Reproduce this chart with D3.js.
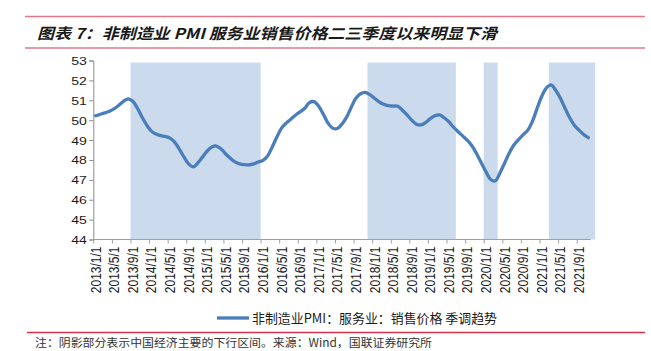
<!DOCTYPE html>
<html><head><meta charset="utf-8">
<script src="https://cdn.jsdelivr.net/npm/d3@7"></script>
<style>
body{margin:0;background:#fff;}
svg{display:block;}
</style></head>
<body>
<svg id="chart" width="651" height="351"></svg>
<script>
// ---------------- data ----------------
const titleText = "图表 7：非制造业 PMI 服务业销售价格二三季度以来明显下滑";
const legendText = "非制造业PMI：服务业：销售价格 季调趋势";
const noteText = "注：阴影部分表示中国经济主要的下行区间。来源：Wind，国联证券研究所";

const startYear = 2013, startMonth = 1;   // first category: 2013/1/1
const values = [
  // 2013
  50.22, 50.30, 50.37, 50.45, 50.58, 50.75, 50.95, 51.07, 50.95, 50.60, 50.15, 49.75,
  // 2014
  49.45, 49.30, 49.22, 49.18, 49.10, 48.90, 48.55, 48.15, 47.80, 47.65, 47.85, 48.15,
  // 2015
  48.45, 48.65, 48.70, 48.55, 48.30, 48.08, 47.90, 47.80, 47.76, 47.75, 47.80, 47.90,
  // 2016
  47.98, 48.20, 48.65, 49.15, 49.60, 49.85, 50.05, 50.25, 50.42, 50.60, 50.88, 50.93,
  // 2017
  50.70, 50.30, 49.85, 49.60, 49.58, 49.80, 50.15, 50.65, 51.10, 51.33, 51.40, 51.28,
  // 2018
  51.10, 50.92, 50.80, 50.73, 50.71, 50.70, 50.50, 50.27, 50.00, 49.80, 49.76, 49.88,
  // 2019
  50.08, 50.22, 50.26, 50.12, 49.92, 49.65, 49.42, 49.20, 48.98, 48.70, 48.30, 47.85,
  // 2020
  47.40, 47.02, 46.95, 47.35, 47.85, 48.35, 48.75, 49.02, 49.27, 49.50, 49.95, 50.60,
  // 2021 (Jan - Nov)
  51.20, 51.62, 51.77, 51.50, 51.10, 50.60, 50.12, 49.75, 49.50, 49.28, 49.12
];

const tickLabels = [
  "2013/1/1","2013/5/1","2013/9/1","2014/1/1","2014/5/1","2014/9/1",
  "2015/1/1","2015/5/1","2015/9/1","2016/1/1","2016/5/1","2016/9/1",
  "2017/1/1","2017/5/1","2017/9/1","2018/1/1","2018/5/1","2018/9/1",
  "2019/1/1","2019/5/1","2019/9/1","2020/1/1","2020/5/1","2020/9/1",
  "2021/1/1","2021/5/1","2021/9/1"
];

// downturn periods (shaded), first month .. last month inclusive
const shadeStarts = ["2013/9", "2017/12", "2020/1", "2021/3"];
const shadeEnds   = ["2015/12", "2019/6", "2020/3", "2021/12"];
const shadeLevel = 52.9;

const yTicks = [44,45,46,47,48,49,50,51,52,53];

// ---------------- layout ----------------
(function(){
const svg = d3.select("#chart");
const mLeft = 93.3, mRight = 590.6, mTop = 60.5, mBottom = 239.5;

const monthIndex = s => { const [yy,mm] = s.split("/").map(Number); return (yy-startYear)*12 + (mm-startMonth); };

const x = d3.scaleLinear().domain([0, values.length]).range([mLeft, mRight]); // category boundaries
const y = d3.scaleLinear().domain([44, 53]).range([mBottom, mTop]);

const fontLatin = "'Liberation Sans', Arial, sans-serif";
const fontCJK = "'Noto Sans CJK SC', 'Liberation Sans', sans-serif";

// title & rules
svg.append("line").attr("x1",25).attr("x2",645).attr("y1",16.5).attr("y2",16.5)
  .attr("stroke","#e2778c").attr("stroke-width",1.3);
svg.append("line").attr("x1",25).attr("x2",645).attr("y1",48).attr("y2",48)
  .attr("stroke","#e2778c").attr("stroke-width",1.3);
svg.append("text").attr("x",37).attr("y",38.5)
  .attr("font-family",fontCJK).attr("font-size",15).attr("font-weight","bold")
  .attr("font-style","italic").attr("fill","#1a1a1a")
  .attr("textLength",460).attr("lengthAdjust","spacingAndGlyphs")
  .text(titleText);

// shading
const shades = shadeStarts.map((s,i)=>({s:monthIndex(s), e:monthIndex(shadeEnds[i])+1}));
svg.append("g").selectAll("rect").data(shades).join("rect")
  .attr("x", d=>x(d.s)).attr("width", d=>x(d.e)-x(d.s))
  .attr("y", y(shadeLevel)).attr("height", y(44)-y(shadeLevel))
  .attr("fill","#cbdaec");

// y axis
const yAxis = d3.axisLeft(y).tickValues(yTicks).tickSize(4).tickFormat(d3.format("d"));
const gy = svg.append("g").attr("transform",`translate(${mLeft},0)`).call(yAxis);
gy.select(".domain").attr("stroke","#8c8c8c");
gy.selectAll(".tick line").attr("stroke","#8c8c8c");
gy.selectAll(".tick text").attr("font-family",fontLatin).attr("font-size",11.5).attr("fill","#1a1a1a")
  .attr("x",0).attr("dy","0.35em")
  .attr("transform","translate(-6.5,0) scale(1.22,1)");

// x axis
const tickIdx = tickLabels.map(t=>monthIndex(t.split("/").slice(0,2).join("/")));
const xAxis = d3.axisBottom(x).tickValues(tickIdx).tickSize(4).tickFormat("");
const gx = svg.append("g").attr("transform",`translate(0,${mBottom})`).call(xAxis);
gx.select(".domain").attr("stroke","#a0a0a0").attr("d",`M${mLeft},0H${mRight}`);
gx.selectAll(".tick line").attr("stroke","#a0a0a0");

svg.append("g").selectAll("text").data(tickLabels).join("text")
  .attr("transform",(d,i)=>`translate(${x(tickIdx[i]+0.5)},246.5) scale(1.2,1) rotate(-90)`)
  .attr("text-anchor","end").attr("dy","0.35em")
  .attr("font-family",fontLatin).attr("font-size",12).attr("fill","#1a1a1a")
  .text(d=>d);

// line
const line = d3.line().x((d,i)=>x(i+0.5)).y(d=>y(d)).curve(d3.curveCatmullRom.alpha(0.5));
svg.append("path").datum(values).attr("d",line)
  .attr("fill","none").attr("stroke","#4a7ebb").attr("stroke-width",3.3)
  .attr("stroke-linecap","round").attr("stroke-linejoin","round");

// legend
svg.append("line").attr("x1",217).attr("x2",249).attr("y1",318).attr("y2",318)
  .attr("stroke","#4a7ebb").attr("stroke-width",3.3);
svg.append("text").attr("x",252).attr("y",322.5)
  .attr("font-family",fontCJK).attr("font-size",13).attr("fill","#1a1a1a")
  .attr("textLength",245).attr("lengthAdjust","spacingAndGlyphs")
  .text(legendText);

// bottom rule & note
svg.append("line").attr("x1",27).attr("x2",645).attr("y1",332.5).attr("y2",332.5)
  .attr("stroke","#d2334f").attr("stroke-width",1.3);
svg.append("text").attr("x",35).attr("y",347)
  .attr("font-family",fontCJK).attr("font-size",11.5).attr("fill","#333")
  .attr("textLength",397).attr("lengthAdjust","spacingAndGlyphs")
  .text(noteText);
})();
</script>
</body></html>
